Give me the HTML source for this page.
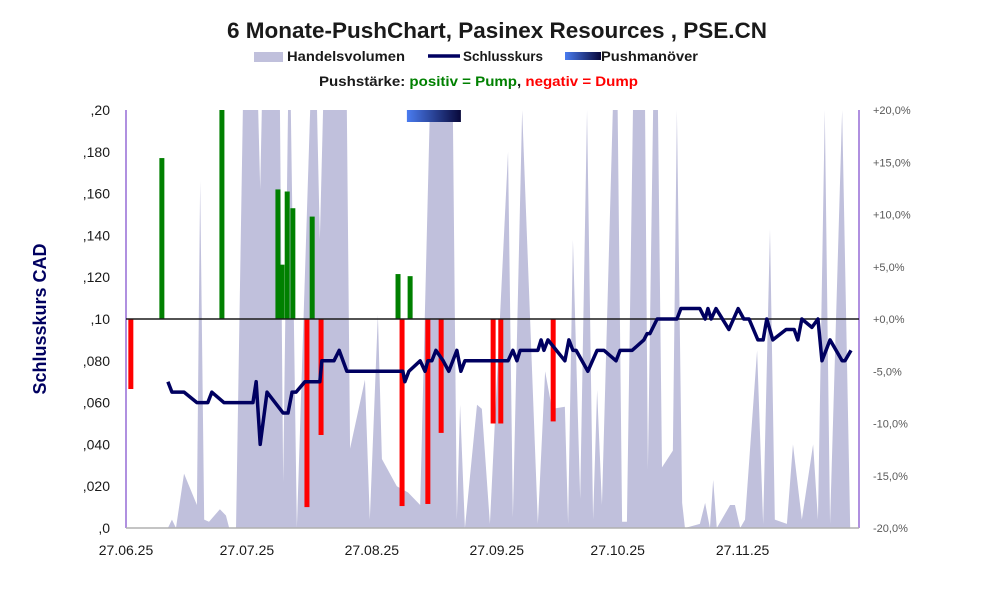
<!DOCTYPE html>
<html><head><meta charset="utf-8"><style>
body{margin:0;background:#fff;}
svg{display:block;font-family:"Liberation Sans",Arial,sans-serif;}
</style></head><body>
<svg id="chart" width="991" height="593" viewBox="0 0 991 593" xmlns="http://www.w3.org/2000/svg">
<defs><linearGradient id="pg" x1="0" x2="1" y1="0" y2="0"><stop offset="0" stop-color="#4a7cf0"/><stop offset="1" stop-color="#08083a"/></linearGradient></defs>
<text x="497" y="38" text-anchor="middle" font-size="22" font-weight="bold" fill="#1a1a1a" textLength="540" lengthAdjust="spacingAndGlyphs">6 Monate-PushChart, Pasinex Resources , PSE.CN</text>
<g>
<rect x="254" y="52" width="29" height="10" fill="#c0c0dc"/>
<text x="287" y="61" font-size="14" font-weight="bold" fill="#1a1a1a" textLength="118" lengthAdjust="spacingAndGlyphs">Handelsvolumen</text>
<line x1="428" y1="56" x2="460" y2="56" stroke="#000060" stroke-width="3.5"/>
<text x="463" y="61" font-size="14" font-weight="bold" fill="#1a1a1a" textLength="80" lengthAdjust="spacingAndGlyphs">Schlusskurs</text>
<rect x="565" y="52" width="36" height="8" fill="url(#pg)"/>
<text x="601" y="61" font-size="14" font-weight="bold" fill="#1a1a1a" textLength="97" lengthAdjust="spacingAndGlyphs">Pushmanöver</text>
<text x="319" y="86" font-size="14" font-weight="bold" fill="#1a1a1a" textLength="319" lengthAdjust="spacingAndGlyphs">Pushstärke:  <tspan fill="#008000">positiv = Pump</tspan>,  <tspan fill="#ff0000">negativ = Dump</tspan></text>
</g>
<text transform="translate(46,319) rotate(-90)" text-anchor="middle" font-size="18" font-weight="bold" fill="#000060">Schlusskurs CAD</text>
<g id="vol"></g>
<g id="push"></g>
<g id="axes"></g>
<g id="line"></g>
</svg>
<script>
const priceDays=[10.4,11.4,14.4,17.6,20.3,21.3,24.3,31.5,32.3,33.3,35,39,40.2,41.2,42.2,44.4,48.1,48.6,51.6,52.9,54.8,58.1,68.7,69.2,70.2,73,74.2,74.9,75.9,76.9,78.7,80.1,82.1,83.1,84.1,94.8,96,97,97.8,102.2,103,103.7,104.7,108.9,109.9,110.9,111.7,114.6,116.9,118.6,121.6,122.6,125.6,128.5,129.3,130,131.8,136.7,137.7,142.4,143.7,144.4,145.2,146.4,149.6,151.9,153.3,154.6,156.8,158.1,159,160.5,163.8,165.8,166.7,167.7,170.2,171.7,172.7,174.7,177.7,178.4,179.9];
const prices=[0.070,0.065,0.065,0.060,0.060,0.065,0.060,0.060,0.070,0.040,0.065,0.055,0.055,0.065,0.065,0.070,0.070,0.080,0.080,0.085,0.075,0.075,0.075,0.070,0.075,0.080,0.075,0.080,0.080,0.085,0.080,0.075,0.085,0.075,0.080,0.080,0.085,0.080,0.085,0.085,0.090,0.085,0.090,0.080,0.090,0.085,0.085,0.075,0.085,0.085,0.080,0.085,0.085,0.090,0.093,0.093,0.100,0.100,0.105,0.105,0.100,0.105,0.100,0.105,0.095,0.105,0.100,0.100,0.090,0.090,0.100,0.090,0.095,0.095,0.090,0.100,0.096,0.100,0.080,0.090,0.080,0.080,0.085];
const volDays=[0,10.4,11.4,12.4,14.4,17.6,18.4,19.4,20.6,23.3,24.8,25.6,27.3,29,32.8,33.3,33.7,38.2,39,40.2,40.9,42.4,45.7,47.4,48.1,48.9,54.8,55.6,59.3,60.5,62.5,63.5,67.2,70,73,75.4,76.9,77.2,77.4,81.1,82.1,82.9,84.1,87.1,88.3,90.3,94.8,96,98.3,102.2,104,105.7,108.9,109.7,110.9,112.7,114.4,115.9,116.9,118.1,120.8,122,123.1,124.3,125.8,128.8,129.5,130.8,132,133,135.7,136.7,138,138.7,142.4,143.7,144.9,145.7,146.6,149.9,151.1,152.4,153.6,156.6,158.1,159.8,161,164,165.5,167.7,170.5,171.7,173.4,174.7,177.7,179.7];
const volumes=[0,0,20,0,130,55,830,20,15,45,30,0,0,1000,1000,810,1000,1000,110,1000,1000,0,1000,1000,690,1000,1000,190,355,20,510,165,100,85,55,1000,1000,970,1000,1000,20,295,0,295,285,10,900,25,1000,10,375,285,290,10,690,70,1000,20,330,55,1000,1000,15,15,1000,1000,140,1000,1000,145,185,1000,60,0,10,60,0,115,0,55,55,0,20,425,10,715,20,10,200,20,200,20,1000,10,1000,0];
const pushDays=[1.2,8.9,23.8,37.7,38.7,40,41.4,44.9,46.2,48.4,67.5,68.5,70.5,74.9,78.2,91.1,93,106];
const pushValues=[-6.7,15.4,20,12.4,5.2,12.2,10.6,-18,9.8,-11.1,4.3,-17.9,4.1,-17.7,-10.9,-10,-10,-9.8];
const pushZone=[69.7,83.1];
const leftTicks=[",0",",020",",040",",060",",080",",10",",120",",140",",160",",180",",20"];
const rightTicks=["-20,0%","-15,0%","-10,0%","-5,0%","+0,0%","+5,0%","+10,0%","+15,0%","+20,0%"];
const dateTickDays=[0,30,61,92,122,153];
const dateTicks=["27.06.25","27.07.25","27.08.25","27.09.25","27.10.25","27.11.25"];

const L=126,R=859,T=110,B=528,NS="http://www.w3.org/2000/svg";
const xS=d=>L+d*4.03;
const yP=p=>B-p/0.2*(B-T);
const yV=v=>B-Math.min(v,1000)/1000*(B-T);
const yR=r=>(T+B)/2-r/20*(B-T)/2;
function mk(tag,attrs,parent){const e=document.createElementNS(NS,tag);for(const k in attrs)e.setAttribute(k,attrs[k]);parent.appendChild(e);return e;}

const vol=document.getElementById('vol');
let d="M"+xS(volDays[0])+","+B;
volDays.forEach((v,i)=>{d+=" L"+xS(v)+","+yV(volumes[i]);});
d+=" L"+xS(volDays[volDays.length-1])+","+B+" Z";
const va=mk('path',{d:d,fill:'#c0c0dc'},vol);



const push=document.getElementById('push');
const pz=mk('rect',{x:xS(pushZone[0]),y:T,width:xS(pushZone[1])-xS(pushZone[0]),height:12,fill:'url(#pg)'},push);


pushDays.forEach((pd,i)=>{
  const v=pushValues[i],y0=yR(0),y1=yR(v);
  const r=mk('rect',{x:xS(pd)-2.5,y:Math.min(y0,y1),width:5,height:Math.abs(y1-y0),fill:v>=0?'#008000':'#ff0000'},push);
  
  
});

const ax=document.getElementById('axes');
mk('line',{x1:L,y1:T,x2:L,y2:B,stroke:'#6020c0','stroke-width':1},ax);
mk('line',{x1:R,y1:T,x2:R,y2:B,stroke:'#6020c0','stroke-width':1},ax);
mk('line',{x1:L,y1:B,x2:R,y2:B,stroke:'#b0b0b0','stroke-width':1.5},ax);
mk('line',{x1:L,y1:yR(0),x2:R,y2:yR(0),stroke:'#1a1a1a','stroke-width':1.5},ax);
leftTicks.forEach((t,i)=>{
  const e=mk('text',{x:110,y:yP(i*0.02)+5,'text-anchor':'end','font-size':14,fill:'#1a1a1a'},ax);e.textContent=t;
  
  
});
rightTicks.forEach((t,i)=>{
  const e=mk('text',{x:873,y:yR(-20+i*5)+4,'font-size':11,fill:'#595959'},ax);e.textContent=t;
  
  
});
dateTicks.forEach((t,i)=>{
  const e=mk('text',{x:xS(dateTickDays[i]),y:555,'text-anchor':'middle','font-size':14,fill:'#1a1a1a'},ax);e.textContent=t;
  
  
});

const ln=document.getElementById('line');
const pts=priceDays.map((pd,i)=>xS(pd)+","+yP(prices[i])).join(" ");
const pl=mk('polyline',{points:pts,fill:'none',stroke:'#000060','stroke-width':3.5,'stroke-linejoin':'round'},ln);


</script>
</body></html>
